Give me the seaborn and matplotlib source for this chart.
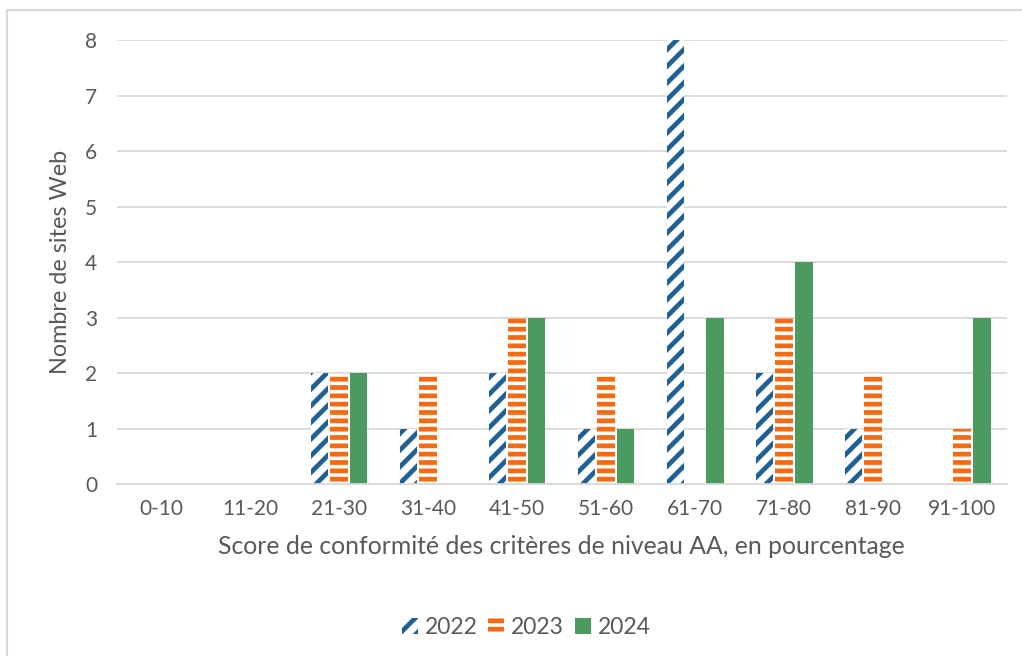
import matplotlib
matplotlib.use("Agg")
import matplotlib.pyplot as plt
import seaborn as sns
import pandas as pd
from matplotlib.lines import Line2D

# Data: number of websites per AA-level conformance score band
categories = ["0-10", "11-20", "21-30", "31-40", "41-50",
              "51-60", "61-70", "71-80", "81-90", "91-100"]
years = ["2022", "2023", "2024"]
sites_2022 = [0, 0, 2, 1, 2, 1, 8, 2, 1, 0]
sites_2023 = [0, 0, 2, 2, 3, 2, 0, 3, 2, 1]
sites_2024 = [0, 0, 2, 0, 3, 1, 3, 4, 0, 3]
y_ticks = [0, 1, 2, 3, 4, 5, 6, 7, 8]

colors = {"2022": "#1f6195", "2023": "#f56a12", "2024": "#4b9a60"}
hatches = {"2022": "//", "2023": "--", "2024": ""}

df = pd.DataFrame({
    "Score": categories * 3,
    "Année": [y for y in years for _ in categories],
    "Sites": sites_2022 + sites_2023 + sites_2024,
})

sns.set_theme(style="white")
plt.rcParams["font.family"] = ["Lato", "DejaVu Sans"]
plt.rcParams["hatch.linewidth"] = 3.4

text_color = "#595959"
grid_color = "#d9d9d9"

fig = plt.figure(figsize=(10.22, 6.56), dpi=100)
ax = fig.add_axes([0.114, 0.262, 0.871, 0.677])

sns.barplot(data=df, x="Score", y="Sites", hue="Année", order=categories,
            hue_order=years, palette=colors, width=0.66, gap=0.1,
            ax=ax, legend=False, saturation=1)

# Hatched bars: white fill with coloured stripes; solid bar for 2024
for container, year in zip(ax.containers, years):
    for bar in container:
        if hatches[year]:
            bar.set_facecolor("white")
            bar.set_edgecolor(colors[year])
            bar.set_hatch(hatches[year])
            bar.set_linewidth(0)
        else:
            bar.set_facecolor(colors[year])
            bar.set_edgecolor(colors[year])
            bar.set_linewidth(0)

ax.set_ylim(0, 8)
ax.set_xlim(-0.5, len(categories) - 0.5)
ax.set_yticks(y_ticks)
ax.yaxis.grid(True, color=grid_color, linewidth=1.3)
ax.set_axisbelow(True)
for side in ["top", "right", "left"]:
    ax.spines[side].set_visible(False)
ax.spines["bottom"].set_color(grid_color)
ax.spines["bottom"].set_linewidth(1.3)
ax.tick_params(axis="both", length=0, labelsize=15, labelcolor=text_color)
ax.tick_params(axis="y", pad=14)
ax.tick_params(axis="x", pad=11)

ax.set_xlabel("Score de conformité des critères de niveau AA, en pourcentage",
              fontsize=17.8, color=text_color, labelpad=11)
ax.set_ylabel("Nombre de sites Web", fontsize=16.8, color=text_color, labelpad=10)

# Legend below the plot
handles = []
for year in years:
    handles.append(plt.Rectangle((0, 0), 1, 1,
                                 facecolor="white" if hatches[year] else colors[year],
                                 edgecolor=colors[year], hatch=hatches[year],
                                 linewidth=0))
fig.legend(handles, years, loc="center", bbox_to_anchor=(0.515, 0.044),
           ncol=3, frameon=False, fontsize=16.5, labelcolor=text_color,
           handlelength=0.7, handleheight=0.7, handletextpad=0.3,
           columnspacing=0.45)

# Chart-area border (left and top edges)
fig.add_artist(Line2D([7 / 1022, 7 / 1022], [0, 1 - 10 / 656],
                      transform=fig.transFigure, color="#d9d9d9", linewidth=1.5))
fig.add_artist(Line2D([7 / 1022, 1], [1 - 10 / 656, 1 - 10 / 656],
                      transform=fig.transFigure, color="#d9d9d9", linewidth=1.5))

fig.savefig("out.png", dpi=100)
